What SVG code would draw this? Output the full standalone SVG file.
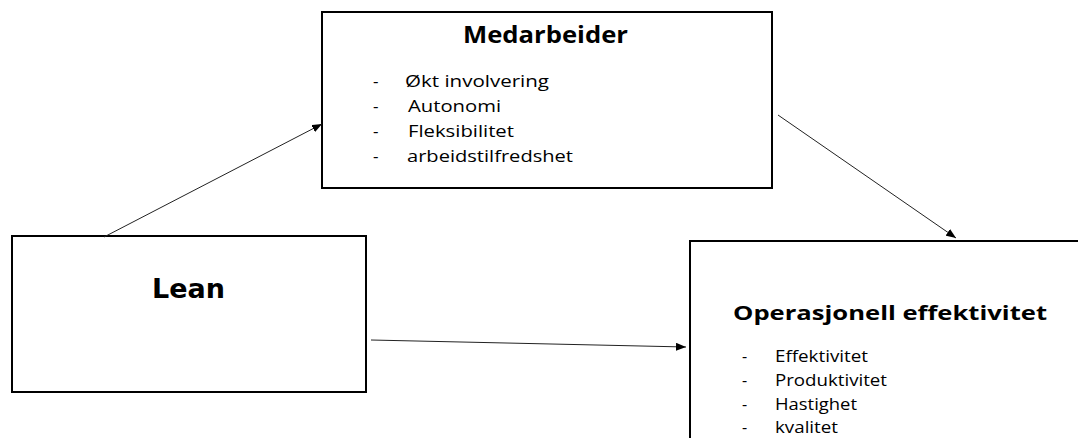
<svg xmlns="http://www.w3.org/2000/svg" width="1078" height="438" viewBox="0 0 1078 438">
<style>
.box{fill:#fff;stroke:#000;stroke-width:2}
.t{font-family:"Open Sans","Liberation Sans",sans-serif;fill:#000}
.h{font-weight:bold}
.li{font-size:17px}
.c{stroke:#222;stroke-width:1;fill:none}
</style>
<defs>
<marker id="ah" markerWidth="10" markerHeight="8" refX="10" refY="4" orient="auto" markerUnits="userSpaceOnUse">
<path d="M0,0 L10,4 L0,8 Z" fill="#000"/>
</marker>
</defs>
<rect width="1078" height="438" fill="#fff"/>
<g id="medarbeider">
<rect class="box" x="322" y="12" width="450" height="176"/>
<text class="t h" x="463" y="43" font-size="23" textLength="165" lengthAdjust="spacingAndGlyphs">Medarbeider</text>
<text class="t li" x="373" y="87">-</text><text class="t li" x="405" y="87" textLength="144" lengthAdjust="spacingAndGlyphs">Økt involvering</text>
<text class="t li" x="373" y="112">-</text><text class="t li" x="408" y="112" textLength="93" lengthAdjust="spacingAndGlyphs">Autonomi</text>
<text class="t li" x="373" y="137">-</text><text class="t li" x="408" y="137" textLength="106" lengthAdjust="spacingAndGlyphs">Fleksibilitet</text>
<text class="t li" x="373" y="162">-</text><text class="t li" x="407" y="162" textLength="166" lengthAdjust="spacingAndGlyphs">arbeidstilfredshet</text>
</g>
<g id="lean">
<rect class="box" x="12" y="236" width="354" height="156"/>
<text x="152" y="298" font-family="DejaVu Sans,sans-serif" font-size="27" font-weight="bold" textLength="73" lengthAdjust="spacingAndGlyphs">Lean</text>
</g>
<g id="operasjonell">
<rect class="box" x="690" y="241" width="400" height="210"/>
<text class="t h" x="733" y="320" font-size="20" textLength="314" lengthAdjust="spacingAndGlyphs">Operasjonell effektivitet</text>
<text class="t" x="742" y="362" font-size="16">-</text><text class="t" x="775" y="362" font-size="16" textLength="93" lengthAdjust="spacingAndGlyphs">Effektivitet</text>
<text class="t" x="742" y="386" font-size="16">-</text><text class="t" x="775" y="386" font-size="16" textLength="112" lengthAdjust="spacingAndGlyphs">Produktivitet</text>
<text class="t" x="742" y="410" font-size="16">-</text><text class="t" x="775" y="410" font-size="16" textLength="82" lengthAdjust="spacingAndGlyphs">Hastighet</text>
<text class="t" x="742" y="433" font-size="16">-</text><text class="t" x="775" y="433" font-size="16" textLength="63" lengthAdjust="spacingAndGlyphs">kvalitet</text>
</g>
<g id="connectors">
<line class="c" x1="104" y1="237" x2="322" y2="124" marker-end="url(#ah)"/>
<line class="c" x1="778" y1="115" x2="956" y2="238" marker-end="url(#ah)"/>
<line class="c" x1="371" y1="340" x2="686" y2="347" marker-end="url(#ah)"/>
</g>
</svg>
